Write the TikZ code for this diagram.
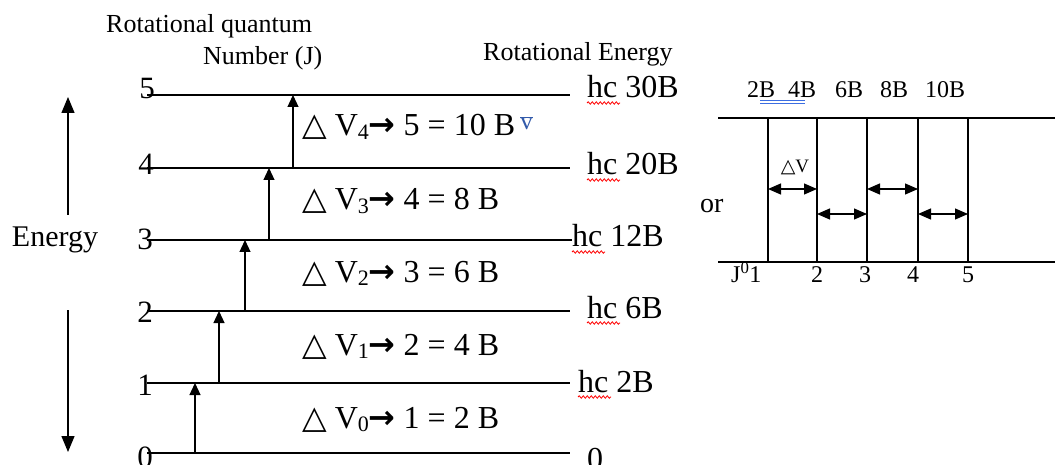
\documentclass[tikz,border=0pt]{standalone}
\usepackage{fontspec}
\setmainfont{Liberation Serif}
\newfontfamily\symfont{DejaVu Sans}
\usetikzlibrary{arrows.meta,positioning,decorations.pathmorphing}
\definecolor{vbarblue}{RGB}{50,90,170}
\definecolor{gramblue}{RGB}{60,110,225}
\newcommand{\tri}{{\symfont △}}
\newcommand{\goes}{{\symfont\bfseries →}}
\newcommand{\lowdig}[1]{\raisebox{-0.12em}{\fontsize{22}{22}\selectfont #1}}
\newcommand{\vbarsym}{\raisebox{0.2em}{\color{vbarblue}\fontsize{25}{25}\selectfont$\overline{\hbox{v}}$}}

\begin{document}
\begin{tikzpicture}[x=1pt,y=-1pt,
  lvl/.style={line width=1.3pt},
  jump/.style={-{Triangle[length=12pt,width=11pt]},line width=1.2pt},
  earr/.style={-{Triangle[length=16pt,width=13pt]},line width=1.3pt},
  gap/.style={{Triangle[length=13pt,width=11pt]}-{Triangle[length=13pt,width=11pt]},line width=1.2pt},
  wall/.style={line width=1.2pt},
  hlabel/.style={font=\fontsize{26}{30}\selectfont,inner sep=0pt,anchor=base west},
  jlabel/.style={font=\fontsize{31}{34}\selectfont,inner sep=0pt,anchor=base},
  tlabel/.style={font=\fontsize{32}{36}\selectfont,inner sep=0pt,anchor=base west},
  elabel/.style={font=\fontsize{32}{36}\selectfont,inner sep=0pt,anchor=base west},
  rlabel/.style={font=\fontsize{24}{28}\selectfont,inner sep=0pt,anchor=base},
  squig/.style={draw=red,line width=0.8pt,decorate,decoration={snake,amplitude=1.2pt,segment length=4pt}}
]
\useasboundingbox (0,0) rectangle (1055,465);

% headers
\node[hlabel] (hq) at (106,33) {Rotational quantum};
\node[hlabel] (hn) at (203,65) {Number (J)};
\node[hlabel] (he) at (483,61) {Rotational Energy};

% energy levels
\coordinate (l5w) at (147,95);  \coordinate (l5e) at (570,95);
\coordinate (l4w) at (147,168); \coordinate (l4e) at (570,168);
\coordinate (l3w) at (147,240); \coordinate (l3e) at (572,240);
\coordinate (l2w) at (147,311); \coordinate (l2e) at (570,311);
\coordinate (l1w) at (147,383); \coordinate (l1e) at (570,383);
\coordinate (l0w) at (147,453); \coordinate (l0e) at (570,453);
\draw[lvl] (l5w) -- (l5e);
\draw[lvl] (l4w) -- (l4e);
\draw[lvl] (l3w) -- (l3e);
\draw[lvl] (l2w) -- (l2e);
\draw[lvl] (l1w) -- (l1e);
\draw[lvl] (l0w) -- (l0e);

\node[jlabel] (j5) at (147,99)  {5};
\node[jlabel] (j4) at (146,175) {4};
\node[jlabel] (j3) at (145,250) {3};
\node[jlabel] (j2) at (145,322) {2};
\node[jlabel] (j1) at (145,395) {1};
\node[jlabel] (j0) at (145,467) {0};

% level energies
\node[elabel] (e5) at (587,98)  {hc 30B};
\node[elabel] (e4) at (587,175) {hc 20B};
\node[elabel] (e3) at (572,247) {hc 12B};
\node[elabel] (e2) at (587,318) {hc 6B};
\node[elabel] (e1) at (578,392) {hc 2B};
\node[elabel] (e0) at (587,469) {0};
\draw[squig] (587,103) -- (620,103);
\draw[squig] (587,180) -- (620,180);
\draw[squig] (572,252) -- (605,252);
\draw[squig] (587,323) -- (620,323);
\draw[squig] (578,397) -- (611,397);

% transitions
\coordinate (t0a) at (195,453); \coordinate (t0b) at (195,383);
\coordinate (t1a) at (219,383); \coordinate (t1b) at (219,311);
\coordinate (t2a) at (245,311); \coordinate (t2b) at (245,240);
\coordinate (t3a) at (269,240); \coordinate (t3b) at (269,168);
\coordinate (t4a) at (293,168); \coordinate (t4b) at (293,95);
\draw[jump] (t0a) -- (t0b);
\draw[jump] (t1a) -- (t1b);
\draw[jump] (t2a) -- (t2b);
\draw[jump] (t3a) -- (t3b);
\draw[jump] (t4a) -- (t4b);

\node[tlabel] (d4) at (302,136) {\tri\ V\lowdig{4}\goes\ 5 = 10 B\,\vbarsym};
\node[tlabel] (d3) at (302,210) {\tri\ V\lowdig{3}\goes\ 4 = 8 B};
\node[tlabel] (d2) at (302,282) {\tri\ V\lowdig{2}\goes\ 3 = 6 B};
\node[tlabel] (d1) at (302,355) {\tri\ V\lowdig{1}\goes\ 2 = 4 B};
\node[tlabel] (d0) at (302,428) {\tri\ V\lowdig{0}\goes\ 1 = 2 B};

% energy axis
\node[font=\fontsize{30}{34}\selectfont,inner sep=0pt,anchor=base] (en) at (55,247) {Energy};
\coordinate (eu0) at (68,215); \coordinate (eu1) at (68,97);
\coordinate (ed0) at (68,310); \coordinate (ed1) at (68,452);
\draw[earr] (eu0) -- (eu1);
\draw[earr] (ed0) -- (ed1);

% spectrum
\node[font=\fontsize{28}{32}\selectfont,inner sep=0pt,anchor=base west] (or) at (700,213) {or};
\coordinate (st) at (718,118); \coordinate (se) at (1055,118);
\coordinate (bt) at (718,262); \coordinate (be) at (1055,262);
\draw[wall] (st) -- (se);
\draw[wall] (bt) -- (be);
\coordinate (w1t) at (768,118); \coordinate (w1b) at (768,262);
\coordinate (w2t) at (817,118); \coordinate (w2b) at (817,262);
\coordinate (w3t) at (867,118); \coordinate (w3b) at (867,262);
\coordinate (w4t) at (918,118); \coordinate (w4b) at (918,262);
\coordinate (w5t) at (968,118); \coordinate (w5b) at (968,262);
\draw[wall] (w1t) -- (w1b);
\draw[wall] (w2t) -- (w2b);
\draw[wall] (w3t) -- (w3b);
\draw[wall] (w4t) -- (w4b);
\draw[wall] (w5t) -- (w5b);
\draw[gap] (768,189) -- (817,189);
\draw[gap] (817,214) -- (867,214);
\draw[gap] (867,189) -- (918,189);
\draw[gap] (918,214) -- (968,214);
\node[font=\fontsize{19}{22}\selectfont,inner sep=0pt] (dv) at (795,167) {\tri V};

\node[rlabel,anchor=base west] (b2) at (747,98) {2B};
\node[rlabel,anchor=base west] (b4) at (788,98) {4B};
\node[rlabel,anchor=base west] (b6) at (835,98) {6B};
\node[rlabel,anchor=base west] (b8) at (880,98) {8B};
\node[rlabel,anchor=base west] (b10) at (925,98) {10B};
\draw[gramblue,line width=1pt] (760,101) -- (805,101);
\draw[gramblue,line width=1pt] (760,104) -- (805,104);

\node[rlabel,anchor=base west] (s1) at (731,283) {J\textsuperscript{0}1};
\node[rlabel] (s2) at (817,283) {2};
\node[rlabel] (s3) at (865,283) {3};
\node[rlabel] (s4) at (913,283) {4};
\node[rlabel] (s5) at (968,283) {5};
\end{tikzpicture}
\end{document}
